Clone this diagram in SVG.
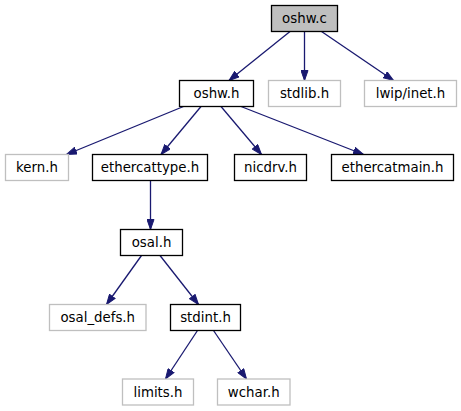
<svg xmlns="http://www.w3.org/2000/svg" width="461" height="411" viewBox="0 0 461 411">
<style>
.n rect{fill:#ffffff;stroke:#000000;stroke-width:1.3}
.n.g rect{stroke:#bfbfbf}
.n.root rect{fill:#bfbfbf}
.n text{font-family:"DejaVu Sans",sans-serif;font-size:13.33px;fill:#000000;text-anchor:middle}
.e path{fill:none;stroke:#191970;stroke-width:1.3;marker-end:url(#ah)}
</style>
<defs>
<marker id="ah" markerUnits="userSpaceOnUse" markerWidth="11" markerHeight="8" refX="10.5" refY="4" orient="auto">
<path d="M0.5,0.5 L10.5,4 L0.5,7.5 z" fill="#191970" stroke="#191970" stroke-width="1"/>
</marker>
</defs>
<rect width="461" height="411" fill="#ffffff"/>
<g id="connectors" class="e">
<path d="M290,31.5 L229,80.5"/>
<path d="M304.5,31.5 L304.5,80.5"/>
<path d="M321.5,31.5 L393.5,80.5"/>
<path d="M183.5,106.5 L66.5,154.5"/>
<path d="M201,106.5 L161,154.5"/>
<path d="M221,106.5 L261.5,154.5"/>
<path d="M241,106.5 L363.5,154.5"/>
<path d="M150.5,180.5 L150.5,229.5"/>
<path d="M141.5,255.5 L106.5,304.5"/>
<path d="M160,255.5 L198.5,304.5"/>
<path d="M197.5,330.5 L165.5,379"/>
<path d="M213.5,330.5 L246.5,379"/>
</g>
<g id="oshw_c" class="n root"><rect x="271.5" y="5.5" width="66" height="26"/><text x="304.5" y="23">oshw.c</text></g>
<g id="oshw_h" class="n"><rect x="179.5" y="80.5" width="74" height="26"/><text x="216.5" y="98">oshw.h</text></g>
<g id="stdlib_h" class="n g"><rect x="268.5" y="80.5" width="72" height="26"/><text x="304.5" y="98">stdlib.h</text></g>
<g id="lwip_inet_h" class="n g"><rect x="364.5" y="80.5" width="92" height="26"/><text x="410.5" y="98">lwip/inet.h</text></g>
<g id="kern_h" class="n g"><rect x="5.5" y="154.5" width="63" height="26"/><text x="37" y="172">kern.h</text></g>
<g id="ethercattype_h" class="n"><rect x="92.5" y="154.5" width="115" height="26"/><text x="150" y="172">ethercattype.h</text></g>
<g id="nicdrv_h" class="n"><rect x="234.5" y="154.5" width="72" height="26"/><text x="270.5" y="172">nicdrv.h</text></g>
<g id="ethercatmain_h" class="n"><rect x="331.5" y="154.5" width="122" height="26"/><text x="392.5" y="172">ethercatmain.h</text></g>
<g id="osal_h" class="n"><rect x="120.5" y="229.5" width="62" height="26"/><text x="151.5" y="247">osal.h</text></g>
<g id="osal_defs_h" class="n g"><rect x="49.5" y="304.5" width="96.5" height="26"/><text x="97.75" y="322">osal_defs.h</text></g>
<g id="stdint_h" class="n"><rect x="170.5" y="304.5" width="70" height="26"/><text x="205.5" y="322">stdint.h</text></g>
<g id="limits_h" class="n g"><rect x="122.5" y="379" width="71" height="26"/><text x="158" y="396.5">limits.h</text></g>
<g id="wchar_h" class="n g"><rect x="217.5" y="379" width="72.5" height="26"/><text x="253.75" y="396.5">wchar.h</text></g>
</svg>
